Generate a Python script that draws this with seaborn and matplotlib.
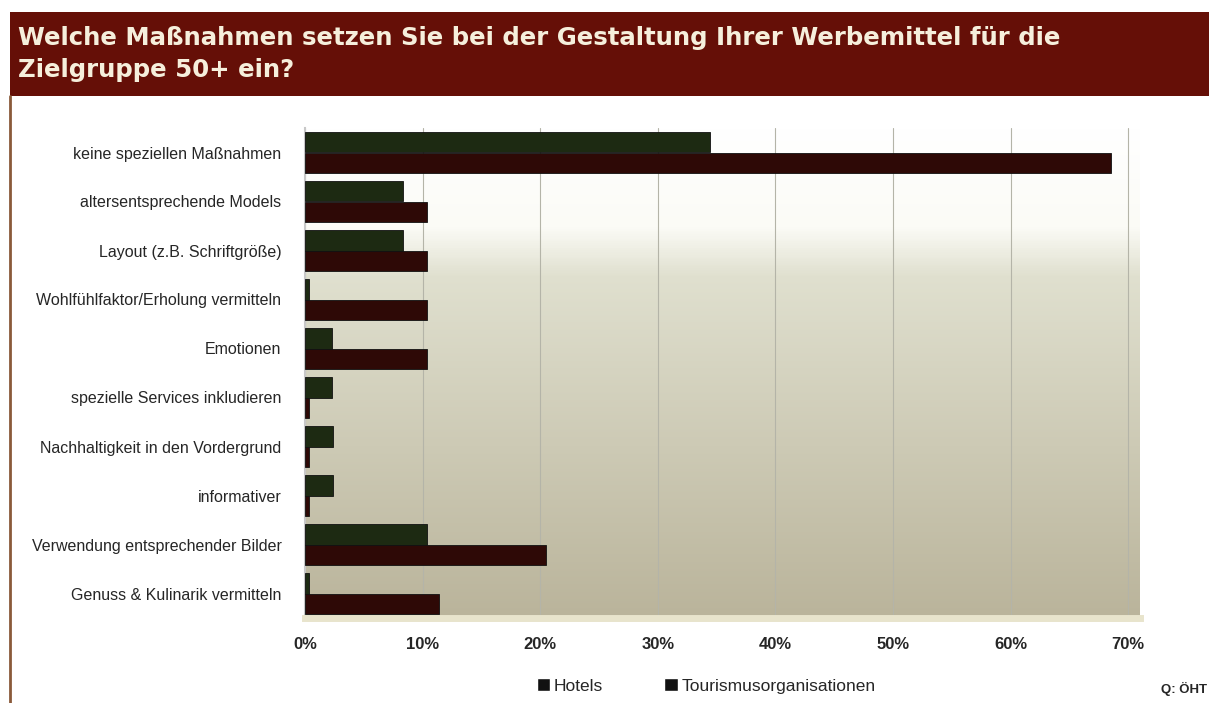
import matplotlib
matplotlib.use('Agg')
import matplotlib.pyplot as plt
import numpy as np
import pandas as pd
import seaborn as sns
from matplotlib.patches import Rectangle
from matplotlib.lines import Line2D

kategorien = [
    'keine speziellen Maßnahmen',
    'altersentsprechende Models',
    'Layout (z.B. Schriftgröße)',
    'Wohlfühlfaktor/Erholung vermitteln',
    'Emotionen',
    'spezielle Services inkludieren',
    'Nachhaltigkeit in den Vordergrund',
    'informativer',
    'Verwendung entsprechender Bilder',
    'Genuss & Kulinarik vermitteln',
]
hotels = [34.4, 8.3, 8.3, 0.3, 2.3, 2.3, 2.4, 2.4, 10.4, 0.3]
tourismus = [68.5, 10.4, 10.4, 10.4, 10.4, 0.3, 0.3, 0.3, 20.5, 11.4]
serien = ['Hotels', 'Tourismusorganisationen']
farben = ['#1d2a12', '#2e0906']
x_ticks = [0, 10, 20, 30, 40, 50, 60, 70]

df = pd.DataFrame({
    'Kategorie': kategorien * 2,
    'Wert': hotels + tourismus,
    'Gruppe': [serien[0]] * len(kategorien) + [serien[1]] * len(kategorien),
})

sns.set_style('white')
plt.rcParams['font.family'] = ['Liberation Sans', 'DejaVu Sans']

fig = plt.figure(figsize=(12.09, 7.03), dpi=100)
fig.patch.set_facecolor('white')

# Titelbalken
fig.patches.append(Rectangle((10 / 1209, 1 - 96 / 703), 1 - 10 / 1209, 84 / 703,
                             transform=fig.transFigure, facecolor='#650f07',
                             edgecolor='none', zorder=0))
fig.text(18 / 1209, 1 - 38 / 703,
         'Welche Maßnahmen setzen Sie bei der Gestaltung Ihrer Werbemittel für die',
         color='#f6efdc', fontsize=17.6, fontweight='bold', family='DejaVu Sans', va='center')
fig.text(18 / 1209, 1 - 70 / 703, 'Zielgruppe 50+ ein?',
         color='#f6efdc', fontsize=17.6, fontweight='bold', family='DejaVu Sans', va='center')
fig.lines.append(Line2D([10 / 1209, 10 / 1209], [0, 1 - 96 / 703], transform=fig.transFigure,
                        color='#8a5a3a', lw=2))

ax = fig.add_axes([305 / 1209, 1 - 618 / 703, (1140 - 305) / 1209, (618 - 128) / 703])

# Hintergrundverlauf
verlauf = np.linspace(0, 1, 200)[:, None]
cmap = matplotlib.colors.LinearSegmentedColormap.from_list(
    'bg', [(0, '#ffffff'), (0.2, '#fbfbf6'), (0.3, '#e0e0cf'), (1, '#bab49b')])
ax.imshow(verlauf, cmap=cmap, aspect='auto', extent=(0, 71, 9.5, -0.5), zorder=0)

sns.barplot(data=df, y='Kategorie', x='Wert', hue='Gruppe', palette=farben,
            width=0.85, orient='h', ax=ax, zorder=3, saturation=1,
            edgecolor='#111111', linewidth=0.6, legend=False)

ax.set_xlim(0, 71)
ax.set_ylim(9.5, -0.5)
ax.set_xticks(x_ticks)
ax.set_xticklabels([f'{t}%' for t in x_ticks], fontsize=12, fontweight='bold')
ax.set_yticklabels(kategorien, fontsize=11.5)
ax.tick_params(axis='y', pad=17, length=0)
ax.tick_params(axis='x', pad=14, length=0)
ax.set_xlabel('')
ax.set_ylabel('')
ax.grid(axis='x', color='#b4b4a8', lw=0.8, zorder=1)
ax.set_axisbelow(True)
for s in ['top', 'right']:
    ax.spines[s].set_visible(False)
ax.spines['left'].set_color('#c8c8c8')
ax.spines['left'].set_linewidth(1.5)
ax.spines['bottom'].set_color('#e8e4cc')
ax.spines['bottom'].set_linewidth(5)

handles = [Rectangle((0, 0), 1, 1, facecolor='#111111') for _ in serien]
fig.legend(handles, serien, loc='center', bbox_to_anchor=(706 / 1209, 1 - 686 / 703),
           ncol=2, frameon=False, fontsize=12.5, handlelength=0.8, handleheight=0.8,
           handletextpad=0.2, columnspacing=3.5)
fig.text(1184 / 1209, 1 - 689 / 703, 'Q: ÖHT', fontsize=9.5, fontweight='bold',
         ha='center', va='center')

fig.savefig('out.png', dpi=100)
